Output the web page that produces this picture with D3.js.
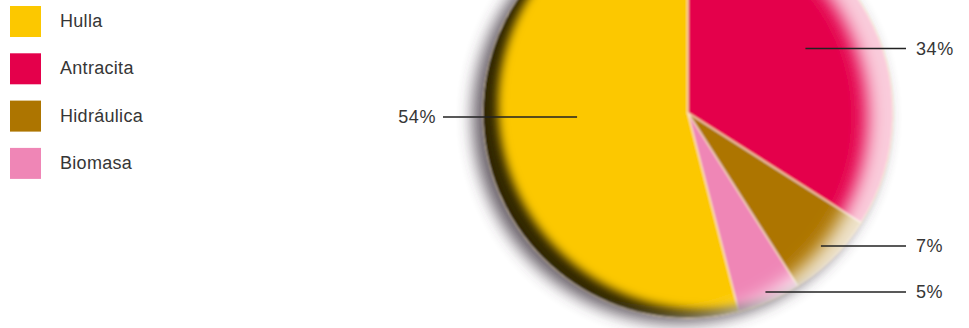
<!DOCTYPE html>
<html>
<head>
<meta charset="utf-8">
<script src="https://cdn.jsdelivr.net/npm/d3@7"></script>
<style>
  html, body { margin: 0; padding: 0; background: #fff; }
  svg { display: block; }
  text { font-family: "Liberation Sans", Arial, sans-serif; fill: #363636; }
</style>
</head>
<body>
<svg id="chart" width="969" height="328"></svg>
<script>
// Electricity generation mix by source (share, %)
const categories = ["Hulla", "Antracita", "Hidráulica", "Biomasa"];
const shares = [54, 34, 7, 5];
const shareLabels = ["54%", "34%", "7%", "5%"];
const colors = ["#fcc800", "#e4004b", "#ad7500", "#ef86b6"];

// Layout
const W = 969, H = 328;
const cx = 688, cy = 113, R = 205;
const leaderRadius = [111, 134, 188, 195];      // where each leader line starts, from the centre
const leaderAngleNudge = [0.09, 0, 0, 0];        // radians
const labelLeftX = 443, labelRightX = 906, labelGap = 10;

const svg = d3.select("#chart");
const defs = svg.append("defs");

// soft drop shadow behind the disc
const fShadow = defs.append("filter").attr("id", "dropShadow")
  .attr("x", "-30%").attr("y", "-30%").attr("width", "160%").attr("height", "160%");
fShadow.append("feGaussianBlur").attr("stdDeviation", 8);

// slight softening of the disc
const fSoft = defs.append("filter").attr("id", "soft")
  .attr("x", "-10%").attr("y", "-10%").attr("width", "120%").attr("height", "120%");
fSoft.append("feGaussianBlur").attr("stdDeviation", 1.1);

// inner rims: dark on the left/bottom, light on the right
function innerRim(id, dx, dy, blur, color, opacity) {
  const f = defs.append("filter").attr("id", id)
    .attr("x", "-20%").attr("y", "-20%").attr("width", "140%").attr("height", "140%");
  f.append("feOffset").attr("in", "SourceAlpha").attr("dx", dx).attr("dy", dy).attr("result", "off");
  f.append("feGaussianBlur").attr("in", "off").attr("stdDeviation", blur).attr("result", "blur");
  f.append("feComposite").attr("in", "SourceAlpha").attr("in2", "blur").attr("operator", "out").attr("result", "rim");
  f.append("feFlood").attr("flood-color", color).attr("flood-opacity", opacity);
  f.append("feComposite").attr("in2", "rim").attr("operator", "in");
}
innerRim("rimDark", 15, -8, 5, "#000", 0.8);
innerRim("rimLight", -26, 4, 9, "#fff", 0.8);

const total = d3.sum(shares);
const start = -shares[0] / total * 2 * Math.PI;
const pie = d3.pie().sort(null).value(d => d)
  .startAngle(start).endAngle(start + 2 * Math.PI);
const arcs = pie(shares);
const arc = d3.arc().innerRadius(0).outerRadius(R);

const g = svg.append("g").attr("transform", `translate(${cx},${cy})`);

g.append("circle").attr("cx", -9).attr("cy", 4).attr("r", R + 1)
  .attr("fill", "#3f3540").attr("opacity", 0.8)
  .attr("filter", "url(#dropShadow)");

const disc = g.append("g").attr("filter", "url(#soft)");

disc.selectAll("path.slice").data(arcs).join("path")
  .attr("class", "slice")
  .attr("d", arc)
  .attr("fill", (d, i) => colors[i])
  .attr("stroke", "#fbe6c4")
  .attr("stroke-width", 1.2)
  .attr("stroke-linejoin", "round");

disc.append("circle").attr("r", R).attr("fill", "#000").attr("filter", "url(#rimDark)");
disc.append("circle").attr("r", R).attr("fill", "#000").attr("filter", "url(#rimLight)");

// leader lines and value labels
arcs.forEach((d, i) => {
  const a = (d.startAngle + d.endAngle) / 2 + leaderAngleNudge[i];
  const x0 = cx + Math.sin(a) * leaderRadius[i];
  const y0 = cy - Math.cos(a) * leaderRadius[i];
  const left = Math.sin(a) < 0;
  const x1 = left ? labelLeftX : labelRightX;
  svg.append("line")
    .attr("x1", x0).attr("y1", y0).attr("x2", x1).attr("y2", y0)
    .attr("stroke", "#222").attr("stroke-width", 1.4);
  svg.append("text")
    .attr("x", left ? x1 - labelGap + 3 : x1 + labelGap)
    .attr("y", y0 + 6.5)
    .attr("text-anchor", left ? "end" : "start")
    .attr("font-size", 18)
    .attr("letter-spacing", 0.6)
    .text(shareLabels[i]);
});

// legend
const legend = svg.append("g").attr("transform", "translate(10,6)");
const row = legend.selectAll("g").data(categories).join("g")
  .attr("transform", (d, i) => `translate(0,${i * 47.3})`);
row.append("rect").attr("width", 31).attr("height", 31)
  .attr("fill", (d, i) => colors[i]);
row.append("text").attr("x", 50).attr("y", 21)
  .attr("font-size", 18).attr("letter-spacing", 0.3)
  .text(d => d);
</script>
</body>
</html>
